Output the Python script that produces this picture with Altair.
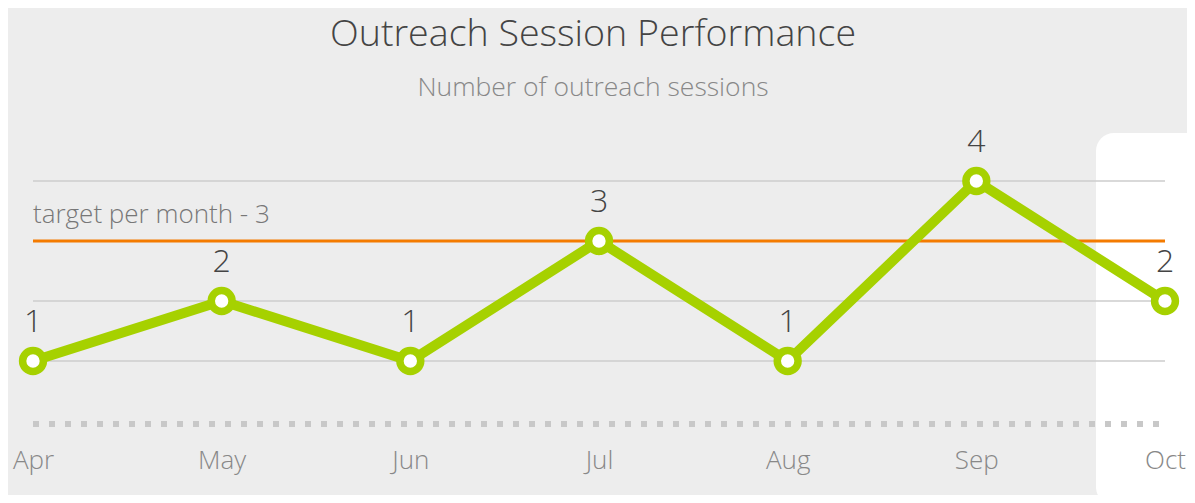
import altair as alt
import pandas as pd

months = ["Apr", "May", "Jun", "Jul", "Aug", "Sep", "Oct"]
sessions = [1, 2, 1, 3, 1, 4, 2]
target = 3
target_label = "target per month - 3"
grid_values = [1, 2, 4]
highlight_month = ["Oct"]

FONT = "Open Sans"
GREEN = "#a6d100"
ORANGE = "#f47b00"

df = pd.DataFrame({"month": months, "sessions": sessions})
grid_df = pd.DataFrame({"v": grid_values})
hl_df = pd.DataFrame({"month": highlight_month, "top": [4.8], "bottom": [-1.4]})
tgt_df = pd.DataFrame({"month": [months[0]], "v": [target], "label": [target_label]})
zero_df = pd.DataFrame({"v": [0]})

xs = alt.X("month:N", sort=months,
           scale=alt.Scale(type="point", padding=0, domain=months),
           axis=alt.Axis(title=None, domain=False, ticks=False, grid=False,
                         labelAngle=0, labelAlign="center", labelFont=FONT,
                         labelFontWeight=300, labelFontSize=26,
                         labelColor="#888888", labelPadding=39))
ys = alt.Scale(domain=[0, 4], nice=False, zero=False)

highlight = alt.Chart(hl_df).mark_rect(
    color="white", cornerRadius=18, clip=False, xOffset=-69, x2Offset=80
).encode(
    x=alt.X("month:N", sort=months),
    x2=alt.X2("month"),
    y=alt.Y("top:Q", scale=ys, axis=None), y2="bottom:Q",
)

grid = alt.Chart(grid_df).mark_rule(color="#cccccc", strokeWidth=1.5).encode(
    y=alt.Y("v:Q", scale=ys, axis=None)
)

zero = alt.Chart(zero_df).mark_rule(
    color="#c8c8c8", strokeWidth=6, strokeDash=[6, 10], strokeDashOffset=10,
    yOffset=3
).encode(y=alt.Y("v:Q", scale=ys, axis=None))

tgt_rule = alt.Chart(tgt_df).mark_rule(color=ORANGE, strokeWidth=3).encode(
    y=alt.Y("v:Q", scale=ys, axis=None)
)
tgt_text = alt.Chart(tgt_df).mark_text(
    align="left", baseline="alphabetic", dy=-18, font=FONT, fontWeight=300,
    fontSize=26, color="#777777"
).encode(x=alt.X("month:N", sort=months), y=alt.Y("v:Q", scale=ys, axis=None),
         text="label:N")

line = alt.Chart(df).mark_line(color=GREEN, strokeWidth=10).encode(
    x=xs, y=alt.Y("sessions:Q", scale=ys, axis=None)
)
points = alt.Chart(df).mark_point(
    filled=True, fill="white", stroke=GREEN, strokeWidth=7.5, size=434,
    opacity=1, shape="circle"
).encode(x=alt.X("month:N", sort=months), y=alt.Y("sessions:Q", scale=ys, axis=None))

labels = alt.Chart(df).mark_text(
    baseline="alphabetic", dy=-29, font=FONT, fontWeight=300, fontSize=32,
    color="#444444"
).encode(x=alt.X("month:N", sort=months), y=alt.Y("sessions:Q", scale=ys, axis=None),
         text="sessions:Q")

chart = alt.layer(highlight, grid, zero, tgt_rule, tgt_text, line, points, labels).properties(
    width=1132, height=240,
    padding={"left": 25, "top": 173, "right": 22, "bottom": 74},
    autosize=alt.AutoSizeParams(type="none"),
    background="#ededed",
    title=alt.TitleParams(
        "Outreach Session Performance",
        subtitle="Number of outreach sessions",
        font=FONT, fontWeight=300, fontSize=37.6, color="#444444",
        subtitleFont=FONT, subtitleFontWeight=300, subtitleFontSize=26.5,
        subtitleColor="#888888", subtitlePadding=21.5,
        anchor="middle", offset=24, dx=-6,
    ),
).configure_view(stroke=None)

chart.save("out.html", embed_options={"renderer": "svg", "actions": False})
